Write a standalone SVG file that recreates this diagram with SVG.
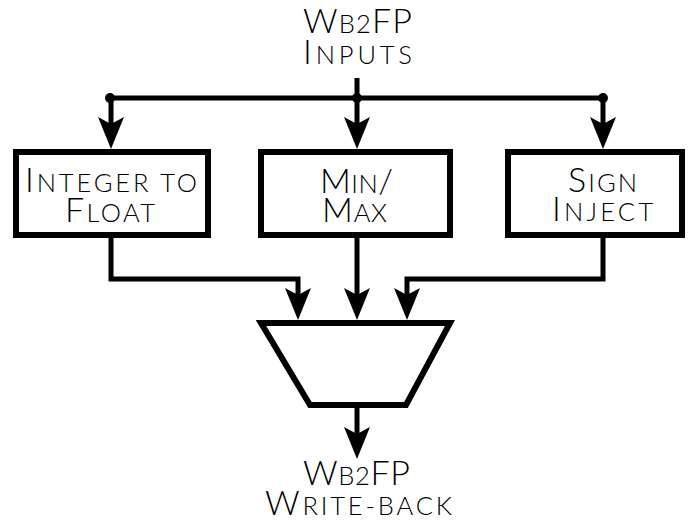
<svg xmlns="http://www.w3.org/2000/svg" width="692" height="523" viewBox="0 0 692 523">
<style>
.t{font-family:Lato,"Open Sans","DejaVu Sans",sans-serif;font-weight:300;font-size:34px;fill:#000;text-anchor:middle}
.s{font-size:25.5px}
.box{fill:#fff;stroke:#000;stroke-width:6}
.w{fill:none;stroke:#000;stroke-width:5}
</style>
<defs>
<marker id="ah" markerUnits="userSpaceOnUse" markerWidth="32" markerHeight="26" viewBox="0 0 32 26" refX="12" refY="13" orient="auto" overflow="visible">
<path d="M0,0 L32,13 L0,26 L7,13 Z" fill="#000"/>
</marker>
</defs>
<g id="inputs">
<text class="t" x="357.5" y="33" textLength="109" lengthAdjust="spacing">W<tspan class="s">B2</tspan>FP</text>
<text class="t" x="357.5" y="64" textLength="109" lengthAdjust="spacing">I<tspan class="s">NPUTS</tspan></text>
</g>
<g id="int2float"><rect class="box" x="16" y="152" width="192" height="83"/>
<text class="t" x="111" y="192" textLength="172" lengthAdjust="spacing">I<tspan class="s">NTEGER TO</tspan></text>
<text class="t" x="110" y="222" textLength="90" lengthAdjust="spacing">F<tspan class="s">LOAT</tspan></text>
</g>
<g id="minmax"><rect class="box" x="261" y="152" width="189" height="83"/>
<text class="t" x="356.5" y="193" textLength="73" lengthAdjust="spacing">M<tspan class="s">IN</tspan>/</text>
<text class="t" x="354.5" y="222" textLength="65" lengthAdjust="spacing">M<tspan class="s">AX</tspan></text>
</g>
<g id="signinject"><rect class="box" x="508" y="152" width="174" height="83"/>
<text class="t" x="602.5" y="192" textLength="69" lengthAdjust="spacing">S<tspan class="s">IGN</tspan></text>
<text class="t" x="602.5" y="221" textLength="101" lengthAdjust="spacing">I<tspan class="s">NJECT</tspan></text>
</g>
<g id="mux"><polygon class="box" points="261,323 450,323 406,405 310,405"/></g>
<g id="writeback">
<text class="t" x="356.5" y="485" textLength="107" lengthAdjust="spacing">W<tspan class="s">B2</tspan>FP</text>
<text class="t" x="358.5" y="515" textLength="187" lengthAdjust="spacing">W<tspan class="s">RITE-BACK</tspan></text>
</g>
<g id="connectors">
<path class="w" d="M357,78 V98 M110,98 H603"/>
<circle cx="110" cy="98" r="5"/><circle cx="357" cy="98" r="5"/><circle cx="603" cy="98" r="5"/>
<path class="w" d="M111,98 V129" marker-end="url(#ah)"/>
<path class="w" d="M357,98 V129" marker-end="url(#ah)"/>
<path class="w" d="M603,98 V129" marker-end="url(#ah)"/>
<path class="w" d="M111,235 V279 H298 V300" marker-end="url(#ah)"/>
<path class="w" d="M357,235 V300" marker-end="url(#ah)"/>
<path class="w" d="M603,235 V279 H407 V300" marker-end="url(#ah)"/>
<path class="w" d="M357,405 V439" marker-end="url(#ah)"/>
</g>
</svg>
